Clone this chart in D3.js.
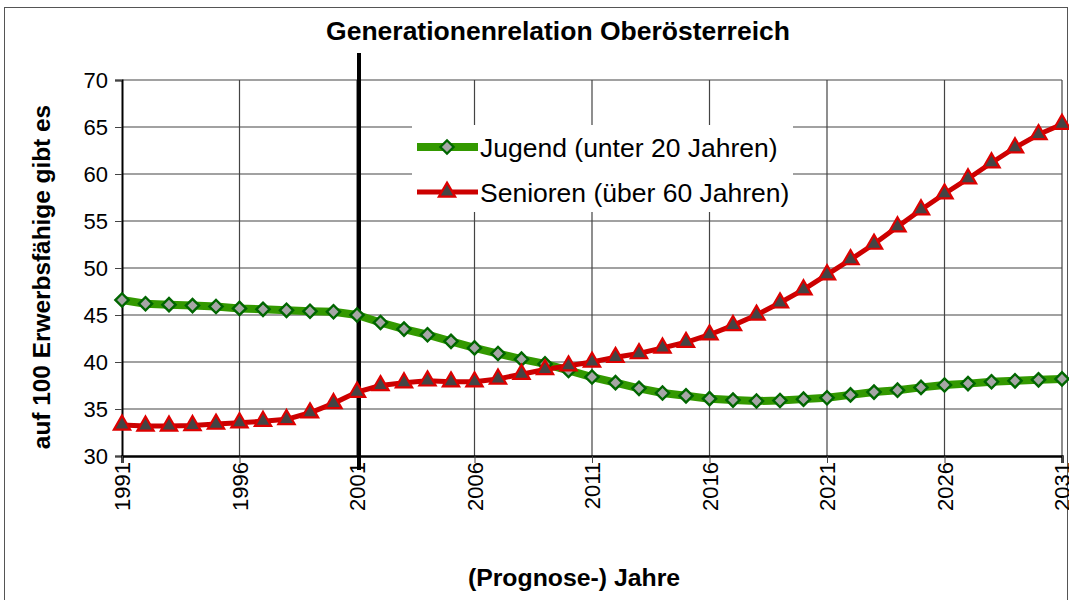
<!DOCTYPE html>
<html>
<head>
<meta charset="utf-8">
<script src="https://cdn.jsdelivr.net/npm/d3@7"></script>
<style>
  body { margin: 0; background: #fff; }
  svg { font-family: Arial, "Liberation Sans", sans-serif; }
</style>
</head>
<body>
<div id="chart"></div>
<script>
const years = d3.range(1991, 2032)

const jugend = [46.6, 46.2, 46.1, 46.0, 45.9, 45.7, 45.6, 45.5, 45.4, 45.35,
    45.0, 44.2, 43.5, 42.9, 42.2, 41.5, 40.9, 40.3, 39.8, 39.1,
    38.4, 37.8, 37.2, 36.7, 36.4, 36.1, 35.95, 35.85, 35.9, 36.05,
    36.2, 36.5, 36.8, 37.0, 37.3, 37.55, 37.7, 37.9, 38.0, 38.1, 38.2]

const senioren = [33.3, 33.2, 33.2, 33.25, 33.4, 33.55, 33.7, 33.9, 34.6, 35.6,
    36.8, 37.5, 37.8, 38.0, 37.9, 37.9, 38.2, 38.7, 39.2, 39.6,
    40.0, 40.5, 40.9, 41.5, 42.1, 42.9, 43.9, 45.0, 46.3, 47.7,
    49.3, 50.9, 52.55, 54.4, 56.2, 57.9, 59.5, 61.2, 62.8, 64.2, 65.3]

const yTicks = [30, 35, 40, 45, 50, 55, 60, 65, 70]
const xTicks = [1991, 1996, 2001, 2006, 2011, 2016, 2021, 2026, 2031]

const width = 1069
const height = 600

const svg = d3.select('#chart')
    .append('svg')
    .attr('width', width)
    .attr('height', height)

// outer frame
svg.append('rect')
    .attr('x', 4.5).attr('y', 7.5)
    .attr('width', 1063).attr('height', 600)
    .attr('fill', '#fff')
    .attr('stroke', '#555')

const xScale = d3.scaleLinear().domain([1991, 2031]).range([122, 1062])
const yScale = d3.scaleLinear().domain([30, 70]).range([456, 80])

// grid
svg.append('g')
    .selectAll('line')
    .data(yTicks.slice(1))
    .join('line')
    .attr('x1', xScale(1991)).attr('x2', xScale(2031))
    .attr('y1', d => yScale(d)).attr('y2', d => yScale(d))
    .attr('stroke', '#444').attr('stroke-width', 1.2)

svg.append('g')
    .selectAll('line')
    .data(xTicks.slice(1))
    .join('line')
    .attr('x1', d => xScale(d)).attr('x2', d => xScale(d))
    .attr('y1', yScale(70)).attr('y2', yScale(30))
    .attr('stroke', '#444').attr('stroke-width', 1.2)

// y axis
const yAxis = svg.append('g')
    .attr('transform', `translate(${xScale(1991)},0)`)
    .call(d3.axisLeft(yScale).tickValues(yTicks).tickSize(7).tickPadding(7))
yAxis.select('.domain').attr('stroke', '#000').attr('stroke-width', 2)
yAxis.selectAll('.tick line').attr('stroke', '#444')
yAxis.selectAll('text')
    .attr('font-size', 22)
    .attr('fill', '#000')
    .attr('font-family', 'Arial, "Liberation Sans", sans-serif')

// x axis
const xAxis = svg.append('g')
    .attr('transform', `translate(0,${yScale(30)})`)
    .call(d3.axisBottom(xScale).tickValues(xTicks).tickFormat(d3.format('d')).tickSize(7))
xAxis.select('.domain').attr('stroke', '#000').attr('stroke-width', 2.5)
xAxis.selectAll('.tick line').attr('stroke', '#444')
xAxis.selectAll('text')
    .attr('font-size', 22)
    .attr('fill', '#000')
    .attr('font-family', 'Arial, "Liberation Sans", sans-serif')
    .attr('transform', 'rotate(-90)')
    .attr('text-anchor', 'end')
    .attr('x', -6)
    .attr('y', 0)
    .attr('dy', '0.35em')

// 2001 marker line
svg.append('line')
    .attr('x1', xScale(2001)+2).attr('x2', xScale(2001)+2)
    .attr('y1', 53).attr('y2', 470)
    .attr('stroke', '#000').attr('stroke-width', 4)

const lineGen = d3.line()
    .x((d, i) => xScale(years[i]))
    .y(d => yScale(d))

svg.append('path')
    .datum(jugend)
    .attr('d', lineGen)
    .attr('fill', 'none')
    .attr('stroke', '#339900')
    .attr('stroke-width', 8)

svg.append('path')
    .datum(senioren)
    .attr('d', lineGen)
    .attr('fill', 'none')
    .attr('stroke', '#cc0000')
    .attr('stroke-width', 5)

const diamond = d3.symbol().type(d3.symbolSquare).size(88)
const triangle = d3.symbol().type(d3.symbolTriangle).size(115)

svg.append('g')
    .selectAll('path')
    .data(jugend)
    .join('path')
    .attr('d', diamond)
    .attr('transform', (d, i) => `translate(${xScale(years[i])},${yScale(d)}) rotate(45)`)
    .attr('fill', '#a6a6a6')
    .attr('stroke', '#006600')
    .attr('stroke-width', 2.4)

svg.append('g')
    .selectAll('path')
    .data(senioren)
    .join('path')
    .attr('d', triangle)
    .attr('transform', (d, i) => `translate(${xScale(years[i])},${yScale(d)})`)
    .attr('fill', '#444')
    .attr('stroke', '#dd0000')
    .attr('stroke-width', 2.2)

// legend
const legend = svg.append('g')
legend.append('rect')
    .attr('x', 412).attr('y', 125)
    .attr('width', 381).attr('height', 87)
    .attr('fill', '#fff')

const legendItems = [
    {label: 'Jugend (unter 20 Jahren)', color: '#339900', w: 8, sym: diamond, fill: '#a6a6a6', stroke: '#006600', rot: 45},
    {label: 'Senioren (über 60 Jahren)', color: '#cc0000', w: 5, sym: triangle, fill: '#444', stroke: '#dd0000', rot: 0}
]

legendItems.forEach((d, i) => {
    const y = 147 + i * 45
    legend.append('line')
        .attr('x1', 417).attr('x2', 478)
        .attr('y1', y).attr('y2', y)
        .attr('stroke', d.color).attr('stroke-width', d.w)
    legend.append('path')
        .attr('d', d.sym)
        .attr('transform', `translate(447,${y}) rotate(${d.rot})`)
        .attr('fill', d.fill)
        .attr('stroke', d.stroke)
        .attr('stroke-width', 2.2)
    legend.append('text')
        .attr('x', 480).attr('y', y)
        .attr('dy', '0.36em')
        .attr('font-size', 26.5)
        .text(d.label)
})

// titles
svg.append('text')
    .attr('x', 558).attr('y', 40)
    .attr('text-anchor', 'middle')
    .attr('font-size', 26.5)
    .attr('font-weight', 'bold')
    .text('Generationenrelation Oberösterreich')

svg.append('text')
    .attr('transform', 'translate(50,277) rotate(-90)')
    .attr('text-anchor', 'middle')
    .attr('font-size', 24.4)
    .attr('font-weight', 'bold')
    .text('auf 100 Erwerbsfähige gibt es')

svg.append('text')
    .attr('x', 574).attr('y', 586)
    .attr('text-anchor', 'middle')
    .attr('font-size', 24.8)
    .attr('font-weight', 'bold')
    .text('(Prognose-) Jahre')
</script>
</body>
</html>
